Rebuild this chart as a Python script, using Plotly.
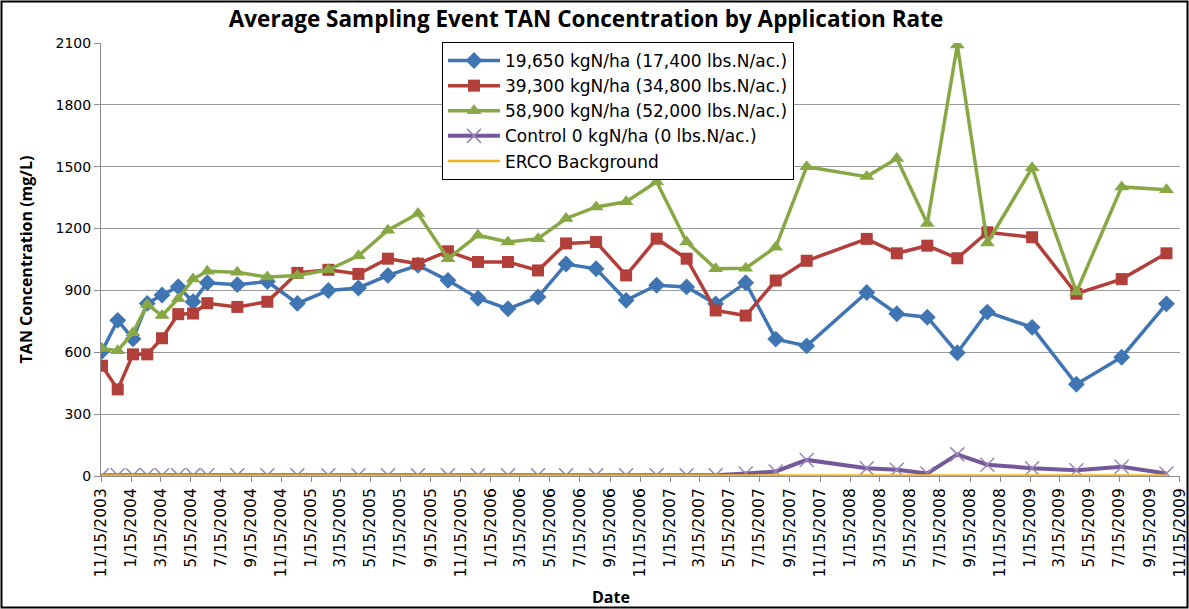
import plotly.graph_objects as go

# sampling event dates
dates = ["2003-11-17", "2003-12-19", "2004-01-19", "2004-02-17", "2004-03-18", "2004-04-20",
         "2004-05-20", "2004-06-18", "2004-08-18", "2004-10-18", "2004-12-18", "2005-02-19",
         "2005-04-21", "2005-06-20", "2005-08-20", "2005-10-20", "2005-12-20", "2006-02-19",
         "2006-04-21", "2006-06-17", "2006-08-17", "2006-10-17", "2006-12-18", "2007-02-17",
         "2007-04-17", "2007-06-17", "2007-08-17", "2007-10-19", "2008-02-18", "2008-04-19",
         "2008-06-20", "2008-08-20", "2008-10-20", "2009-01-19", "2009-04-19", "2009-07-20",
         "2009-10-19"]

# TAN concentration, mg/L
rate_19650 = [605, 755, 665, 837, 878, 918, 845, 937, 928, 943, 837, 900, 912, 973, 1022, 949,
              862, 811, 868, 1028, 1005, 852, 925, 917, 835, 937, 664, 631, 890, 787, 770, 598,
              795, 721, 445, 576, 835]
rate_39300 = [535, 420, 590, 590, 668, 785, 788, 838, 820, 845, 985, 1000, 980, 1054, 1030, 1090,
              1038, 1038, 997, 1128, 1135, 973, 1151, 1054, 803, 778, 948, 1044, 1150, 1080, 1117,
              1056, 1182, 1158, 884, 955, 1080]
rate_58900 = [618, 608, 695, 832, 778, 860, 955, 993, 988, 965, 972, 1000, 1068, 1192, 1273, 1054,
              1168, 1135, 1151, 1249, 1305, 1330, 1427, 1135, 1005, 1008, 1110, 1500, 1452, 1540,
              1225, 2090, 1130, 1495, 892, 1402, 1388]
control = [4, 4, 4, 4, 4, 4, 4, 4, 4, 4, 4, 4, 4, 4, 4, 4, 4, 4, 4, 4, 4, 4, 4, 4, 4, 12, 22, 78,
           38, 30, 12, 105, 55, 38, 28, 45, 12]
erco = [3, 3, 3, 3, 3, 3, 3, 3, 3, 3, 3, 3, 3, 3, 3, 3, 3, 3, 3, 3, 3, 3, 3, 3, 3, 3, 3, 3,
        3, 3, 3, 3, 3, 3, 3, 3, 3]

y_ticks = [0, 300, 600, 900, 1200, 1500, 1800, 2100]

W, H = 1189, 609
ML, MR, MT, MB = 101, 9, 43, 133

fig = go.Figure()

fig.add_trace(go.Scatter(x=dates, y=rate_19650, mode="lines+markers",
                         name="19,650 kgN/ha (17,400 lbs.N/ac.)",
                         line=dict(color="#3F75B3", width=3.5),
                         marker=dict(symbol="diamond", size=13, color="#3F75B3")))
fig.add_trace(go.Scatter(x=dates, y=rate_39300, mode="lines+markers",
                         name="39,300 kgN/ha (34,800 lbs.N/ac.)",
                         line=dict(color="#B33F3B", width=3.5),
                         marker=dict(symbol="square", size=12, color="#B33F3B")))
fig.add_trace(go.Scatter(x=dates, y=rate_58900, mode="lines+markers",
                         name="58,900 kgN/ha (52,000 lbs.N/ac.)",
                         line=dict(color="#88A846", width=3.5),
                         marker=dict(symbol="triangle-up", size=13, color="#88A846")))
fig.add_trace(go.Scatter(x=dates, y=control, mode="lines+markers",
                         name="Control 0 kgN/ha (0 lbs.N/ac.)",
                         line=dict(color="#74589A", width=4),
                         marker=dict(symbol="x-thin", size=14,
                                     line=dict(color="#9884B6", width=1.5))))
fig.add_trace(go.Scatter(x=dates, y=erco, mode="lines",
                         name="ERCO Background",
                         line=dict(color="#F2B51C", width=2.5)))

fig.update_xaxes(
    type="date",
    range=["2003-11-15", "2009-11-15 12:00"],
    tick0="2003-11-15", dtick="M2", tickformat="%-m/%d/%Y",
    tickangle=-90, automargin=False,
    tickfont=dict(family="DejaVu Sans", size=15.5, color="black"),
    showgrid=False, showline=True, linecolor="#8c8c8c", linewidth=1,
    ticks="outside", ticklen=5, tickcolor="#8c8c8c",
)
fig.update_yaxes(
    range=[0, 2100], tickvals=y_ticks, automargin=False,
    tickfont=dict(family="DejaVu Sans", size=14, color="black"),
    showgrid=True, gridcolor="#9a9a9a", gridwidth=1,
    showline=True, linecolor="#8c8c8c", linewidth=1,
    ticks="outside", ticklen=6, tickcolor="#8c8c8c",
    zeroline=False,
    title=dict(text="<b>TAN Concentration (mg/L)</b>", font=dict(family="Open Sans", size=16, color="black"),
               standoff=18),
)

pw, ph = W - ML - MR, H - MT - MB
fig.add_shape(type="rect", xref="paper", yref="paper",
              x0=-(ML - 1.5) / pw, x1=1 + (MR - 1.5) / pw,
              y0=-(MB - 1.5) / ph, y1=1 + (MT - 1.5) / ph,
              line=dict(color="black", width=2), layer="below")

fig.add_annotation(text="<b>Date</b>", xref="paper", yref="paper",
                   x=(611 - ML) / pw, y=-(597 - (H - MB)) / ph, showarrow=False,
                   xanchor="center", yanchor="middle",
                   font=dict(family="Open Sans", size=16, color="black"))

fig.update_layout(
    width=W, height=H,
    margin=dict(l=ML, r=MR, t=MT, b=MB, autoexpand=False),
    paper_bgcolor="white", plot_bgcolor="white",
    title=dict(text="<b>Average Sampling Event TAN Concentration by Application Rate</b>",
               x=(586 - ML) / pw, xref="paper", xanchor="center", y=1 - 19 / H, yanchor="middle",
               font=dict(family="Open Sans", size=22.5, color="black")),
    legend=dict(x=(442 - ML) / pw, y=1 + (MT - 42) / ph, xanchor="left", yanchor="top",
                bgcolor="white", bordercolor="black", borderwidth=1,
                font=dict(family="DejaVu Sans", size=17, color="black"),
                itemwidth=52, tracegroupgap=0),
    showlegend=True,
)

fig.write_html("out.html", config={"displayModeBar": False},
               post_script="document.body.style.margin='0';")
